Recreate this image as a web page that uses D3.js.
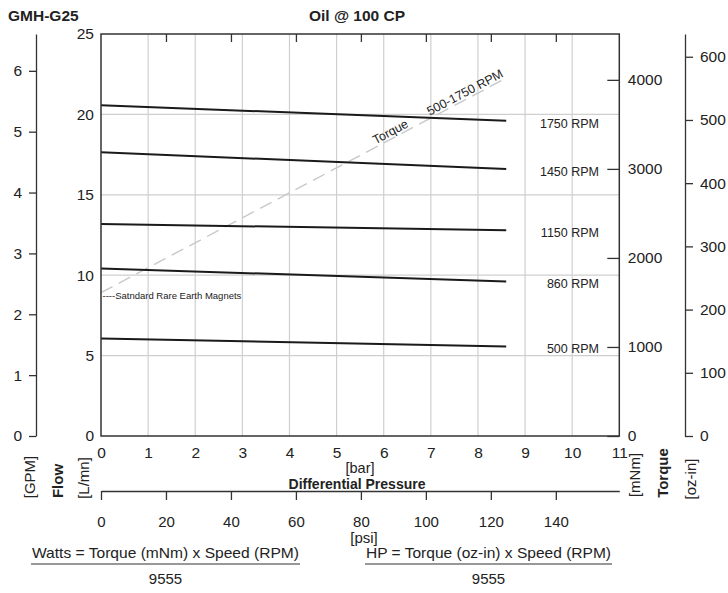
<!DOCTYPE html>
<html>
<head>
<meta charset="utf-8">
<script src="https://cdn.jsdelivr.net/npm/d3@7"></script>
<style>
  body { margin: 0; background: #fff; }
  text { font-family: "Liberation Sans", Arial, sans-serif; fill: #222; }
</style>
</head>
<body>
<script>
// size of the svg
const w = 728;
const h = 593;

// speed curves: flow [L/mn] at 0 bar and at the last pressure point
const rpmLabels = ["500 RPM", "860 RPM", "1150 RPM", "1450 RPM", "1750 RPM"];
const pressurePoints = [0, 8.6];
const flowStart = [6.07, 10.42, 13.18, 17.65, 20.57];
const flowEnd = [5.57, 9.61, 12.8, 16.6, 19.6];

// torque line (mNm) at the same two pressures
const torqueValues = [1610, 4020];
const torqueLabelA = "Torque";
const torqueLabelB = "500-1750 RPM";
const magnetNote = "----Satndard Rare Earth Magnets";

// tick values
const barTicks = [0, 1, 2, 3, 4, 5, 6, 7, 8, 9, 10, 11];
const flowTicks = [0, 5, 10, 15, 20, 25];
const gpmTicks = [0, 1, 2, 3, 4, 5, 6];
const mnmTicks = [0, 1000, 2000, 3000, 4000];
const ozinTicks = [0, 100, 200, 300, 400, 500, 600];
const psiTicks = [0, 20, 40, 60, 80, 100, 120, 140];

const svg = d3.select("body").append("svg").attr("width", w).attr("height", h);

// plot box
const pLeft = 101, pRight = 619.3, pTop = 34, pBottom = 436;

const x = d3.scaleLinear().domain([0, 11]).range([pLeft, pRight]);
const xPsi = d3.scaleLinear().domain([0, 11 * 14.5038]).range([pLeft, pRight]);
const yFlow = d3.scaleLinear().domain([0, 25]).range([pBottom, pTop]);
const yGpm = d3.scaleLinear().domain([0, 25 / 3.785]).range([pBottom, pTop]);
const yMnm = d3.scaleLinear().domain([0, 4515]).range([pBottom, pTop]);
const yOz = d3.scaleLinear().domain([0, 636]).range([pBottom, pTop]);

// plain integers on every axis, no "4,000" or "6.0"
const plain = d3.format("d");

//grid
svg.append("g")
  .selectAll("line")
  .data(barTicks.slice(1, -1))
  .enter()
  .append("line")
  .attr("x1", (d) => x(d))
  .attr("x2", (d) => x(d))
  .attr("y1", pTop)
  .attr("y2", pBottom)
  .attr("stroke", "#cfcfcf")
  .attr("stroke-width", 1.2);

svg.append("g")
  .selectAll("line")
  .data(flowTicks.slice(1, -1))
  .enter()
  .append("line")
  .attr("x1", pLeft)
  .attr("x2", pRight)
  .attr("y1", (d) => yFlow(d))
  .attr("y2", (d) => yFlow(d))
  .attr("stroke", "#cfcfcf")
  .attr("stroke-width", 1.2);

// torque dashed line + its labels
const torqueLine = d3.line()
  .x((d, i) => x(pressurePoints[i]))
  .y((d) => yMnm(d));

svg.append("path")
  .attr("d", torqueLine(torqueValues))
  .attr("fill", "none")
  .attr("stroke", "#c8c8c8")
  .attr("stroke-width", 1.4)
  .attr("stroke-dasharray", "13,7");

const tx0 = x(pressurePoints[0]), ty0 = yMnm(torqueValues[0]);
const tx1 = x(pressurePoints[1]), ty1 = yMnm(torqueValues[1]);
const angle = (Math.atan2(ty1 - ty0, tx1 - tx0) * 180) / Math.PI;

function onTorque(bar) {
  const t = (x(bar) - tx0) / (tx1 - tx0);
  return [tx0 + t * (tx1 - tx0), ty0 + t * (ty1 - ty0)];
}

[[torqueLabelA, 5.85], [torqueLabelB, 7.0]].forEach(function (d) {
  const p = onTorque(d[1]);
  svg.append("text")
    .attr("transform", "translate(" + p[0] + "," + p[1] + ") rotate(" + angle + ")")
    .attr("dy", -2.5)
    .attr("font-size", "12.5px")
    .attr("fill", "#2a2a2a")
    .text(d[0]);
});

svg.append("text")
  .attr("x", tx0 + 1.5)
  .attr("y", ty0 + 6.6)
  .attr("font-size", "9.5px")
  .attr("fill", "#333")
  .text(magnetNote);

// speed curves
const curve = d3.line()
  .x((d, i) => x(pressurePoints[i]))
  .y((d) => yFlow(d));

svg.append("g")
  .selectAll("path")
  .data(rpmLabels)
  .enter()
  .append("path")
  .attr("d", (d, i) => curve([flowStart[i], flowEnd[i]]))
  .attr("fill", "none")
  .attr("stroke", "#1a1a1a")
  .attr("stroke-width", 2);

svg.append("g")
  .selectAll("text")
  .data(rpmLabels)
  .enter()
  .append("text")
  .attr("x", 599)
  .attr("y", (d, i) => yFlow(flowEnd[i]) + 3)
  .attr("dominant-baseline", "central")
  .attr("text-anchor", "end")
  .attr("font-size", "12.5px")
  .text((d) => d);

// frame
svg.append("rect")
  .attr("x", pLeft)
  .attr("y", pTop)
  .attr("width", pRight - pLeft)
  .attr("height", pBottom - pTop)
  .attr("fill", "none")
  .attr("stroke", "#333")
  .attr("stroke-width", 1.5);

// small psi ticks hanging from the top edge
svg.append("g")
  .attr("transform", "translate(0," + pTop + ")")
  .call(d3.axisBottom(xPsi).tickValues(psiTicks.slice(1)).tickSize(8).tickFormat(""))
  .call((g) => g.select(".domain").remove())
  .call((g) => g.selectAll("line").attr("stroke", "#333").attr("stroke-width", 1.3));

/** --- axes --- */
function styleAxis(g, size) {
  g.selectAll("text").attr("font-size", size).attr("font-family", null).attr("fill", "#222");
  g.selectAll("line").attr("stroke", "#333").attr("stroke-width", 1.3);
  g.select(".domain").attr("stroke", "#333").attr("stroke-width", 1.3);
}

svg.append("g")
  .attr("transform", "translate(" + pLeft + ",0)")
  .call(d3.axisLeft(yFlow).tickValues(flowTicks).tickFormat(plain).tickSize(0).tickPadding(7))
  .call((g) => g.select(".domain").remove())
  .call((g) => styleAxis(g, "15.5px"));

svg.append("g")
  .attr("transform", "translate(0," + pBottom + ")")
  .call(d3.axisBottom(x).tickValues(barTicks).tickFormat(plain).tickSize(0).tickPadding(10.5))
  .call((g) => g.select(".domain").remove())
  .call((g) => styleAxis(g, "15.5px"));

svg.append("g")
  .attr("transform", "translate(36,0)")
  .call(d3.axisLeft(yGpm).tickValues(gpmTicks).tickFormat(plain).tickSize(7).tickSizeOuter(0).tickPadding(7))
  .call((g) => styleAxis(g, "15.5px"));

svg.append("g")
  .attr("transform", "translate(" + pRight + ",0)")
  .call(d3.axisRight(yMnm).tickValues(mnmTicks).tickFormat(plain).tickSizeInner(-12).tickSizeOuter(0).tickPadding(8.5))
  .call((g) => g.select(".domain").remove())
  .call((g) => styleAxis(g, "15.5px"));

svg.append("g")
  .attr("transform", "translate(685,0)")
  .call(d3.axisRight(yOz).tickValues(ozinTicks).tickFormat(plain).tickSize(8).tickSizeOuter(0).tickPadding(7))
  .call((g) => styleAxis(g, "15.5px"));

svg.append("g")
  .attr("transform", "translate(0,491)")
  .call(d3.axisBottom(xPsi).tickValues(psiTicks).tickFormat(plain).tickSize(9).tickSizeOuter(0).tickPadding(16))
  .call((g) => styleAxis(g, "15px"));

/** --- titles and unit labels --- */
svg.append("text").attr("x", 8).attr("y", 21)
  .attr("font-size", "15.5px").attr("font-weight", "bold").text("GMH-G25");
svg.append("text").attr("x", 357).attr("y", 21).attr("text-anchor", "middle")
  .attr("font-size", "15.5px").attr("font-weight", "bold").text("Oil @ 100 CP");

svg.append("text").attr("x", 360).attr("y", 473).attr("text-anchor", "middle")
  .attr("font-size", "14.5px").text("[bar]");
svg.append("text").attr("x", 357).attr("y", 489).attr("text-anchor", "middle")
  .attr("font-size", "14px").attr("font-weight", "bold").text("Differential Pressure");
svg.append("text").attr("x", 364).attr("y", 543).attr("text-anchor", "middle")
  .attr("font-size", "15px").text("[psi]");

const sideLabels = [
  ["[GPM]", 29.7, 477, "normal"],
  ["Flow", 57.5, 481, "bold"],
  ["[L/mn]", 83, 478, "normal"],
  ["[mNm]", 634, 475, "normal"],
  ["Torque", 662, 473, "bold"],
  ["[oz-in]", 690, 479, "normal"],
];
svg.selectAll(".side")
  .data(sideLabels)
  .enter()
  .append("text")
  .attr("class", "side")
  .attr("transform", (d) => "translate(" + d[1] + "," + d[2] + ") rotate(-90)")
  .attr("text-anchor", "middle")
  .attr("dominant-baseline", "central")
  .attr("font-size", "15px")
  .attr("font-weight", (d) => d[3])
  .text((d) => d[0]);

// formulas
const formulas = [
  ["Watts = Torque (mNm) x Speed (RPM)", 31, 300],
  ["HP = Torque (oz-in) x Speed (RPM)", 365, 612],
];
formulas.forEach(function (f) {
  const cx = (f[1] + f[2]) / 2;
  svg.append("text").attr("x", cx).attr("y", 558).attr("text-anchor", "middle")
    .attr("font-size", "15px").attr("textLength", f[2] - f[1] - 2)
    .attr("lengthAdjust", "spacingAndGlyphs").text(f[0]);
  svg.append("line").attr("x1", f[1]).attr("x2", f[2]).attr("y1", 564).attr("y2", 564)
    .attr("stroke", "#333").attr("stroke-width", 1.2);
  svg.append("text").attr("x", cx).attr("y", 584).attr("text-anchor", "middle")
    .attr("font-size", "15px").text("9555");
});
</script>
</body>
</html>
